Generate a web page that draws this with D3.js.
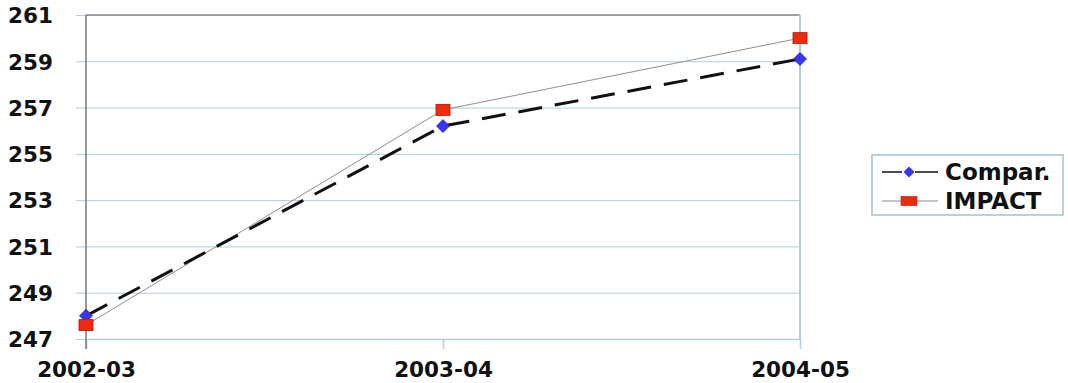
<!DOCTYPE html>
<html>
<head>
<meta charset="utf-8">
<script src="https://cdn.jsdelivr.net/npm/d3@7/dist/d3.min.js"></script>
<style>
  html, body { margin: 0; padding: 0; background: #ffffff; }
  svg { display: block; }
  text { font-family: "DejaVu Sans", "Liberation Sans", Arial, sans-serif; font-weight: bold; fill: #111; }
</style>
</head>
<body>
<svg id="chart" width="1068" height="383"></svg>
<script>
const categories = ["2002-03", "2003-04", "2004-05"];
const comparValues = [248.0, 256.2, 259.1];
const impactValues = [247.6, 256.9, 260.0];
const yTicks = [247, 249, 251, 253, 255, 257, 259, 261];
const seriesNames = ["Compar.", "IMPACT"];

const svg = d3.select("#chart");
const plot = { left: 86, right: 800, top: 15, bottom: 339 };
const gridColor = "#b4cade";
const fontSize = 21.5;

const x = d3.scalePoint().domain(categories).range([plot.left, plot.right]);
const y = d3.scaleLinear().domain([247, 261]).range([plot.bottom, plot.top]);

// horizontal gridlines with outward ticks
const yAxis = d3.axisLeft(y).tickValues(yTicks).tickSize(-(plot.right - plot.left)).tickSizeOuter(0).tickPadding(33);
const gy = svg.append("g").attr("transform", `translate(${plot.left},0)`).call(yAxis);
gy.select(".domain").remove();
gy.selectAll(".tick line").attr("stroke", gridColor).attr("x1", -10);
gy.selectAll(".tick text").attr("font-size", fontSize).attr("dy", "0.36em").attr("fill", "#111");

// top border
svg.append("line").attr("x1", plot.left).attr("x2", plot.right)
  .attr("y1", plot.top).attr("y2", plot.top).attr("stroke", "#8a8a8a").attr("stroke-width", 1.5);
// right border
svg.append("line").attr("x1", plot.right).attr("x2", plot.right)
  .attr("y1", plot.top).attr("y2", plot.bottom).attr("stroke", gridColor).attr("stroke-width", 2);

// category axis
const xAxis = d3.axisBottom(x).tickSize(10).tickSizeOuter(0).tickPadding(13);
const gx = svg.append("g").attr("transform", `translate(0,${plot.bottom})`).call(xAxis);
gx.select(".domain").attr("stroke", gridColor).attr("stroke-width", 1.5);
gx.selectAll(".tick line").attr("stroke", gridColor).attr("stroke-width", 1.5);
gx.selectAll(".tick text").attr("font-size", fontSize).attr("fill", "#111");
gy.attr("font-family", null);
gx.attr("font-family", null);

// value axis line
svg.append("line").attr("x1", plot.left).attr("x2", plot.left)
  .attr("y1", plot.top).attr("y2", plot.bottom + 10).attr("stroke", "#777").attr("stroke-width", 1.5);

const line = d3.line().x((d, i) => x(categories[i])).y(d => y(d));

// IMPACT series
svg.append("path").datum(impactValues).attr("d", line)
  .attr("fill", "none").attr("stroke", "#8e8e8e").attr("stroke-width", 1);
// Compar. series
svg.append("path").datum(comparValues).attr("d", line)
  .attr("fill", "none").attr("stroke", "#111").attr("stroke-width", 3)
  .attr("stroke-dasharray", "24,13");

const diamond = (cx, cy, r) => `M${cx},${cy - r}L${cx + r},${cy}L${cx},${cy + r}L${cx - r},${cy}Z`;

svg.append("g").selectAll("path").data(comparValues).join("path")
  .attr("d", (d, i) => diamond(x(categories[i]), y(d), 6.5))
  .attr("fill", "#3636f0").attr("stroke", "#2222c8").attr("stroke-width", 0.8);

svg.append("g").selectAll("rect").data(impactValues).join("rect")
  .attr("x", (d, i) => x(categories[i]) - 7).attr("y", d => y(d) - 5.5)
  .attr("width", 14).attr("height", 11)
  .attr("fill", "#f02a0a").attr("stroke", "#b01800").attr("stroke-width", 0.8);

// legend
const lg = svg.append("g");
lg.append("rect").attr("x", 872).attr("y", 155).attr("width", 191).attr("height", 60)
  .attr("fill", "#fff").attr("stroke", "#a8c0d4").attr("stroke-width", 1.5);
const ly = [172, 201];
// Compar. entry
lg.append("line").attr("x1", 882).attr("x2", 902).attr("y1", ly[0]).attr("y2", ly[0])
  .attr("stroke", "#111").attr("stroke-width", 1.5);
lg.append("line").attr("x1", 915).attr("x2", 938).attr("y1", ly[0]).attr("y2", ly[0])
  .attr("stroke", "#111").attr("stroke-width", 1.5);
lg.append("path").attr("d", diamond(909, ly[0], 5.5)).attr("fill", "#3636f0");
// IMPACT entry
lg.append("line").attr("x1", 882).attr("x2", 938).attr("y1", ly[1]).attr("y2", ly[1])
  .attr("stroke", "#8e8e8e").attr("stroke-width", 1);
lg.append("rect").attr("x", 901).attr("y", ly[1] - 4.5).attr("width", 16).attr("height", 9)
  .attr("fill", "#f02a0a").attr("stroke", "#b01800").attr("stroke-width", 0.6);
lg.selectAll("text.lbl").data(seriesNames).join("text").attr("class", "lbl")
  .attr("x", 945).attr("y", (d, i) => ly[i]).attr("dy", "0.36em")
  .attr("font-size", 23).text(d => d);
</script>
</body>
</html>
